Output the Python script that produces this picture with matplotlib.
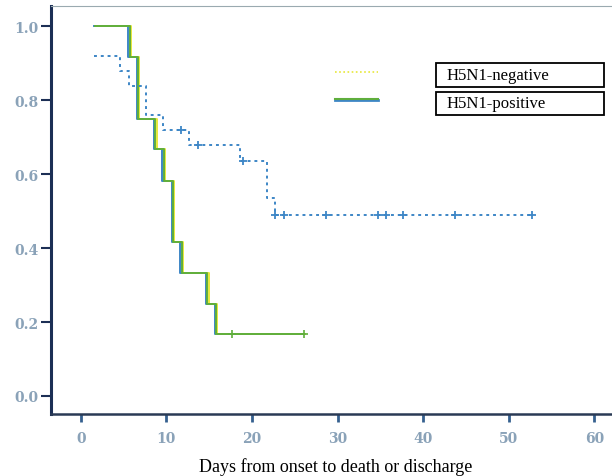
import numpy as np
import matplotlib
matplotlib.use("Agg")
import matplotlib.pyplot as plt
import matplotlib.transforms as mtransforms

# survival step data (days, survival fraction)
pos_time = [1.7, 5.7, 6.7, 8.7, 9.7, 10.8, 11.8, 14.8, 15.8, 26.1]
pos_surv = [1.0, 0.917, 0.75, 0.667, 0.583, 0.417, 0.333, 0.25, 0.167, 0.167]
pos_cens_t = [17.7, 26.1]
pos_cens_s = [0.167, 0.167]

neg_time = [1.6, 4.6, 5.6, 7.6, 9.6, 12.6, 18.6, 21.8, 22.7, 52.7]
neg_surv = [0.92, 0.88, 0.84, 0.76, 0.72, 0.68, 0.635, 0.537, 0.489, 0.489]
neg_cens_t = [11.7, 13.7, 18.9, 22.7, 23.7, 28.6, 34.7, 35.7, 37.7, 43.7, 52.7]
neg_cens_s = [0.72, 0.68, 0.635, 0.489, 0.489, 0.489, 0.489, 0.489, 0.489, 0.489, 0.489]

labels = ["H5N1-negative", "H5N1-positive"]
xticks = [0, 10, 20, 30, 40, 50, 60]
yticks = [0.0, 0.2, 0.4, 0.6, 0.8, 1.0]

tick_col = "#8aa2b8"
green = "#5fae3c"
blue = "#3d86c6"
yellow = "#e8e83a"

fig = plt.figure(figsize=(6.12, 4.77), dpi=100)
ax = fig.add_axes([0.083, 0.13, 0.93, 0.855])

#---------------------------------------------------------------------
# positive curve: green with slight blue / yellow misregistration
#---------------------------------------------------------------------
off_l = mtransforms.offset_copy(ax.transData, fig=fig, x=-1.3, y=0, units="dots")
off_r = mtransforms.offset_copy(ax.transData, fig=fig, x=1.3, y=0, units="dots")
ax.step(pos_time, pos_surv, where="post", color=blue, lw=1.4, transform=off_l)
ax.step(pos_time, pos_surv, where="post", color=yellow, lw=1.4, transform=off_r)
ax.step(pos_time, pos_surv, where="post", color=green, lw=1.4)
ax.plot(pos_cens_t, pos_cens_s, ls="none", marker="+", ms=6, mew=1.2, color=green)

#---------------------------------------------------------------------
# negative curve: dotted blue
#---------------------------------------------------------------------
ax.step(neg_time, neg_surv, where="post", color=blue, lw=1.4, dashes=[1.5, 2.0])
ax.plot(neg_cens_t, neg_cens_s, ls="none", marker="+", ms=6, mew=1.3, color=blue)

ax.set_xlim(-3.5, 63)
ax.set_ylim(-0.049, 1.055)
ax.set_xticks(xticks)
ax.set_yticks(yticks)
ax.set_xticklabels([str(t) for t in xticks])
ax.set_yticklabels(["%.1f" % t for t in yticks])

for lab in ax.get_xticklabels() + ax.get_yticklabels():
    lab.set_family("DejaVu Serif")
    lab.set_fontweight("bold")
    lab.set_fontsize(10)
    lab.set_color(tick_col)

ax.tick_params(axis="y", direction="out", length=7, width=1.5, color="#1c2f55", pad=2)
ax.tick_params(axis="x", direction="out", length=6, width=2, color="#35608f", pad=6)

ax.spines["left"].set_color("#1c2f55")
ax.spines["left"].set_linewidth(2.2)
ax.spines["bottom"].set_color("#2a3a55")
ax.spines["bottom"].set_linewidth(1.8)
ax.spines["top"].set_color("#9aaab0")
ax.spines["top"].set_linewidth(0.8)
ax.spines["right"].set_visible(False)

ax.set_xlabel("Days from onset to death or discharge", family="Liberation Serif",
              fontsize=13, color="black", labelpad=9)

#---------------------------------------------------------------------
# legend drawn as in the original (line samples + boxed labels)
#---------------------------------------------------------------------
fig.lines.append(plt.Line2D([0.548, 0.618], [0.847, 0.847], transform=fig.transFigure,
                            color=yellow, lw=1.2, dashes=[1, 1.5]))
fig.lines.append(plt.Line2D([0.548, 0.618], [0.788, 0.788], transform=fig.transFigure,
                            color=blue, lw=2.0))
fig.lines.append(plt.Line2D([0.548, 0.618], [0.790, 0.790], transform=fig.transFigure,
                            color=green, lw=1.5))
for i, lab in enumerate(labels):
    y0 = 0.841 - i * 0.06
    fig.patches.append(plt.Rectangle((0.712, y0 - 0.025), 0.275, 0.05, transform=fig.transFigure,
                                     fill=False, ec="black", lw=1.3))
    fig.text(0.73, y0, lab, family="Liberation Serif", fontsize=12, va="center", ha="left")

plt.savefig("out.png", dpi=100)
